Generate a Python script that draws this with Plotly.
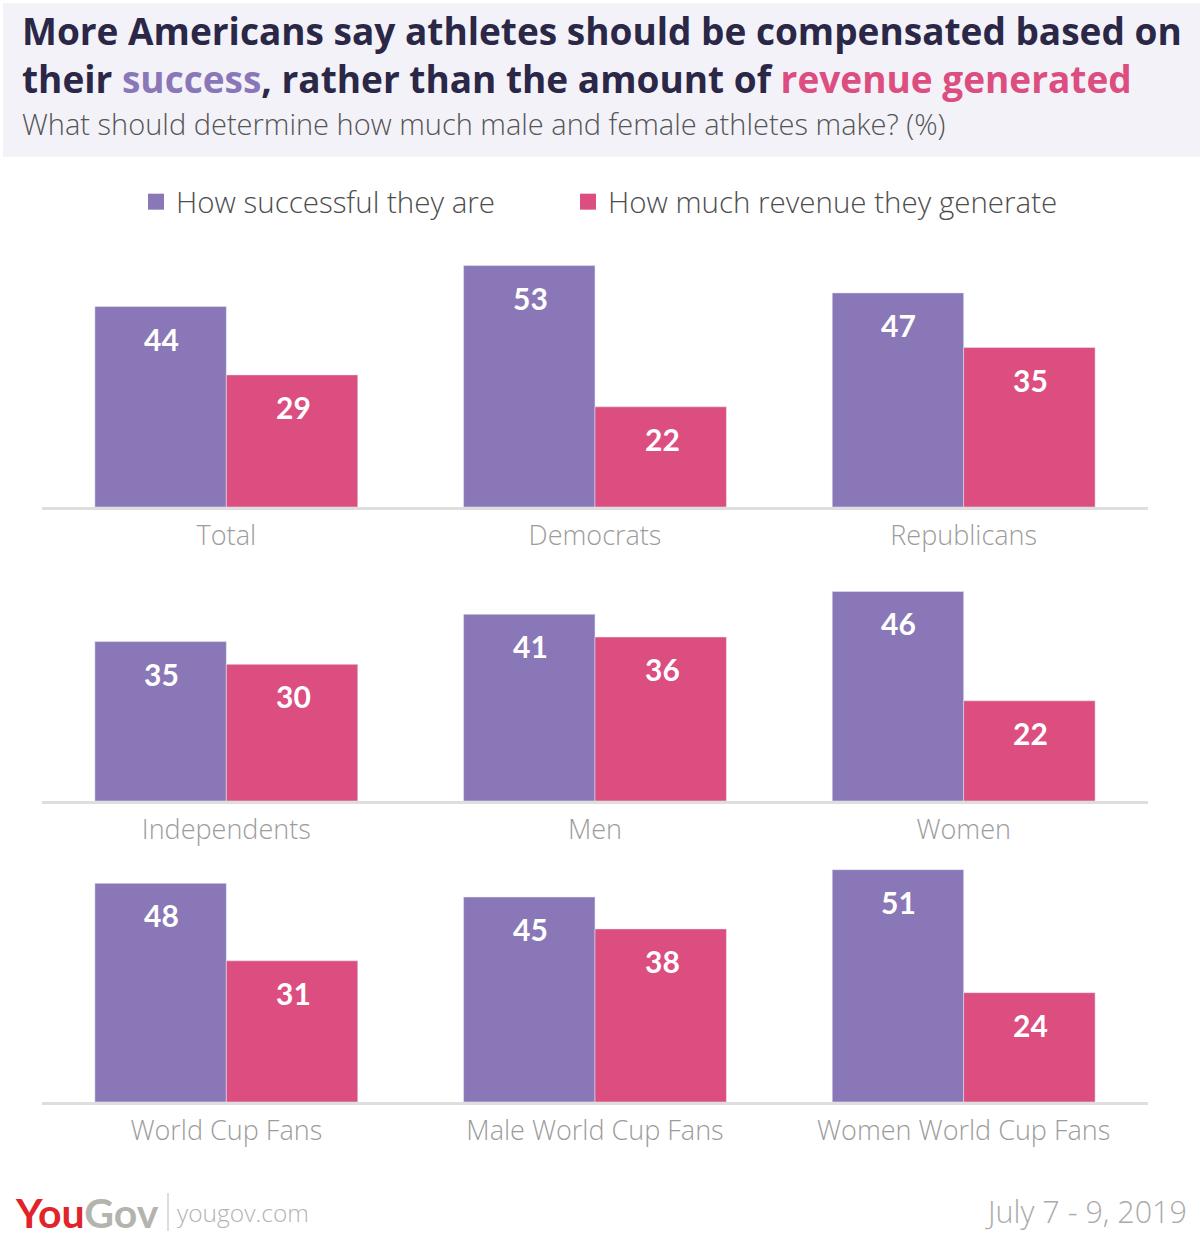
import plotly.graph_objects as go

# ---------------- data ----------------
row1_cats = ["Total", "Democrats", "Republicans"]
row1_success = [44, 53, 47]
row1_revenue = [29, 22, 35]

row2_cats = ["Independents", "Men", "Women"]
row2_success = [35, 41, 46]
row2_revenue = [30, 36, 22]

row3_cats = ["World Cup Fans", "Male World Cup Fans", "Women World Cup Fans"]
row3_success = [48, 45, 51]
row3_revenue = [31, 38, 24]

series_names = ["How successful they are", "How much revenue they generate"]

title_line1 = "More Americans say athletes should be compensated based on"
title_line2_a = "their "
title_line2_b = "success"
title_line2_c = ", rather than the amount of "
title_line2_d = "revenue generated"
subtitle = "What should determine how much male and female athletes make? (%)"
date_text = "July 7 - 9, 2019"

# ---------------- style ----------------
W, H = 1200, 1243
PURPLE = "#8a77b7"
PINK = "#dc4d80"
NAVY = "#2b2747"
FONT = "Open Sans"
NUMFONT = "Lato"

rows = [
    (row1_cats, row1_success, row1_revenue, 230, 507),
    (row2_cats, row2_success, row2_revenue, 524, 801),
    (row3_cats, row3_success, row3_revenue, 825, 1102),
]
PX_PER_UNIT = 4.555


def ydom(top, bottom):
    return [1 - bottom / H, 1 - top / H]


fig = go.Figure()
layout_axes = {}
annotations = []

for i, (cats, succ, rev, top, bottom) in enumerate(rows, start=1):
    xa = "x" if i == 1 else f"x{i}"
    ya = "y" if i == 1 else f"y{i}"
    fig.add_trace(go.Bar(x=cats, y=succ, marker_color=PURPLE, name=series_names[0],
                         xaxis=xa, yaxis=ya, showlegend=False, hoverinfo="skip"))
    fig.add_trace(go.Bar(x=cats, y=rev, marker_color=PINK, name=series_names[1],
                         xaxis=xa, yaxis=ya, showlegend=False, hoverinfo="skip"))
    yrange = (bottom - top) / PX_PER_UNIT
    layout_axes["xaxis" if i == 1 else f"xaxis{i}"] = dict(
        domain=[42 / W, 1148 / W], anchor=ya, type="category",
        showline=True, linecolor="#dedede", linewidth=3, showgrid=False,
        ticks="", ticklen=0, tickfont=dict(family=FONT, size=27, color="#9c9c9c", weight=300),
        ticklabelstandoff=3, fixedrange=True,
    )
    layout_axes["yaxis" if i == 1 else f"yaxis{i}"] = dict(
        domain=ydom(top, bottom), anchor=xa, range=[0, yrange],
        showgrid=False, showticklabels=False, zeroline=False, showline=False,
        fixedrange=True,
    )
    for cat, s, r in zip(cats, succ, rev):
        for val, shift in ((s, -65), (r, 67)):
            annotations.append(dict(
                x=cat, y=val, xref=xa, yref=ya, xshift=shift, yshift=-32,
                text=f"<b>{val}</b>", showarrow=False, xanchor="center", yanchor="middle",
                font=dict(family=NUMFONT, size=30, color="white"),
            ))

# legend dummies (each in its own legend so they can be placed like the reference)
for name, col, lg in zip(series_names, [PURPLE, PINK], ["legend", "legend2"]):
    fig.add_trace(go.Scatter(x=[None], y=[None], mode="markers", name=name,
                             marker=dict(symbol="square", size=16, color=col),
                             xaxis="x", yaxis="y", showlegend=True, legend=lg))

# title block
annotations.append(dict(
    x=20 / W, y=1 - 3 / H, xref="paper", yref="paper", xanchor="left", yanchor="top",
    align="left", showarrow=False,
    text=(f"<b>{title_line1}<br>{title_line2_a}"
          f"<span style='color:{PURPLE}'>{title_line2_b}</span>{title_line2_c}"
          f"<span style='color:{PINK}'>{title_line2_d}</span></b>"),
    font=dict(family=FONT, size=37, color=NAVY),
))
annotations.append(dict(
    x=20 / W, y=1 - 123 / H, xref="paper", yref="paper", xanchor="left", yanchor="middle",
    showarrow=False, text=subtitle,
    font=dict(family=FONT, size=29, color="#555555", weight=300),
))
# footer
annotations.append(dict(
    x=13 / W, y=1 - 1212 / H, xref="paper", yref="paper", xanchor="left", yanchor="middle",
    showarrow=False,
    text="<b><span style='color:#e1242b'>You</span><span style='color:#b4b4af'>Gov</span></b>",
    font=dict(family="Lato", size=41, color="#e1242b", weight=900),
))
annotations.append(dict(
    x=175 / W, y=1 - 1212 / H, xref="paper", yref="paper", xanchor="left", yanchor="middle",
    showarrow=False, text="yougov.com",
    font=dict(family=FONT, size=24.5, color="#b3b3b3", weight=300),
))
annotations.append(dict(
    x=1189 / W, y=1 - 1211 / H, xref="paper", yref="paper", xanchor="right", yanchor="middle",
    showarrow=False, text=date_text,
    font=dict(family=FONT, size=30.5, color="#ababab", weight=300),
))

shapes = [
    dict(type="rect", xref="paper", yref="paper", x0=3 / W, x1=1, y0=1 - 157 / H, y1=1 - 3 / H,
         fillcolor="#f3f2f9", line=dict(width=0), layer="below"),
    dict(type="line", xref="paper", yref="paper", x0=168 / W, x1=168 / W,
         y0=1 - 1231 / H, y1=1 - 1193 / H, line=dict(color="#bdbdbd", width=1)),
]

legend_common = dict(orientation="h", yanchor="middle", y=1 - 202 / H, xanchor="left",
                     font=dict(family=FONT, size=29.5, color="#4d4d4d", weight=300),
                     bgcolor="rgba(0,0,0,0)", itemclick=False, itemdoubleclick=False)

fig.update_layout(
    width=W, height=H, margin=dict(l=0, r=0, t=0, b=0),
    paper_bgcolor="white", plot_bgcolor="white",
    barmode="group", bargap=0.287, bargroupgap=0,
    showlegend=True,
    legend=dict(x=136 / W, **legend_common),
    legend2=dict(x=568 / W, **legend_common),
    annotations=annotations, shapes=shapes,
    font=dict(family=FONT),
    **layout_axes,
)

fig.write_html("out.html")
